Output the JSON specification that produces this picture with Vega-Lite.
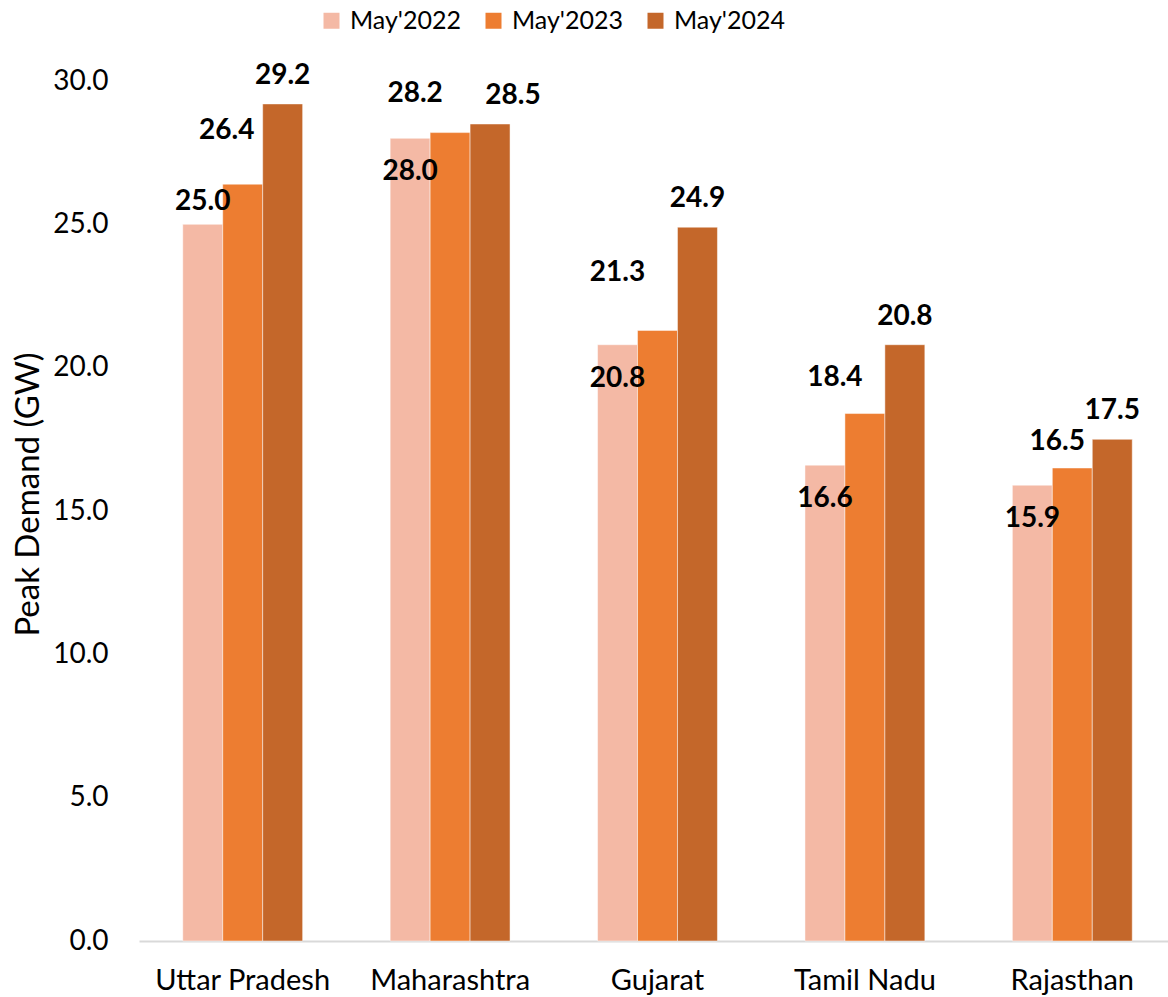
{
  "$schema": "https://vega.github.io/schema/vega-lite/v6.json",
  "autosize": {"type": "none"},
  "padding": {"left": 139, "top": 81, "right": 0, "bottom": 56},
  "width": 1037,
  "height": 860,
  "background": "white",
  "config": {
    "view": {"stroke": null},
    "font": "Lato",
    "text": {"font": "Lato"}
  },
  "data": {
    "values": [
      {"state": "Uttar Pradesh", "year": "May'2022", "value": 25.0},
      {"state": "Uttar Pradesh", "year": "May'2023", "value": 26.4},
      {"state": "Uttar Pradesh", "year": "May'2024", "value": 29.2},
      {"state": "Maharashtra", "year": "May'2022", "value": 28.0},
      {"state": "Maharashtra", "year": "May'2023", "value": 28.2},
      {"state": "Maharashtra", "year": "May'2024", "value": 28.5},
      {"state": "Gujarat", "year": "May'2022", "value": 20.8},
      {"state": "Gujarat", "year": "May'2023", "value": 21.3},
      {"state": "Gujarat", "year": "May'2024", "value": 24.9},
      {"state": "Tamil Nadu", "year": "May'2022", "value": 16.6},
      {"state": "Tamil Nadu", "year": "May'2023", "value": 18.4},
      {"state": "Tamil Nadu", "year": "May'2024", "value": 20.8},
      {"state": "Rajasthan", "year": "May'2022", "value": 15.9},
      {"state": "Rajasthan", "year": "May'2023", "value": 16.5},
      {"state": "Rajasthan", "year": "May'2024", "value": 17.5}
    ]
  },
  "encoding": {
    "x": {
      "field": "state",
      "type": "nominal",
      "sort": ["Uttar Pradesh", "Maharashtra", "Gujarat", "Tamil Nadu", "Rajasthan"],
      "scale": {"paddingInner": 0.422, "paddingOuter": 0.211},
      "axis": {
        "title": null,
        "labelAngle": 0,
        "labelFont": "Lato",
        "labelFontSize": 29,
        "labelColor": "#000000",
        "labelPadding": 25,
        "ticks": false,
        "tickSize": 0,
        "domainColor": "#D9D9D9",
        "domainWidth": 2,
        "grid": false
      }
    },
    "xOffset": {
      "field": "year",
      "type": "nominal",
      "scale": {"paddingInner": 0, "paddingOuter": 0}
    },
    "y": {
      "field": "value",
      "type": "quantitative",
      "scale": {"domain": [0, 30], "nice": false},
      "axis": {
        "title": "Peak Demand (GW)",
        "titleFont": "Lato",
        "titleFontSize": 33,
        "titleFontWeight": "normal",
        "titleColor": "#000000",
        "titleAngle": -90,
        "titleX": -111,
        "titleY": 413,
        "titleAlign": "center",
        "titleBaseline": "middle",
        "values": [0, 5, 10, 15, 20, 25, 30],
        "format": ".1f",
        "labelFont": "Lato",
        "labelFontSize": 28,
        "labelColor": "#000000",
        "labelPadding": 31,
        "ticks": false,
        "tickSize": 0,
        "domain": false,
        "grid": false
      }
    }
  },
  "layer": [
    {
      "mark": {"type": "bar", "stroke": "white", "strokeWidth": 0.8, "strokeOpacity": 0.6},
      "encoding": {
        "color": {
          "field": "year",
          "type": "nominal",
          "scale": {"domain": ["May'2022", "May'2023", "May'2024"], "range": ["#F4B9A5", "#ED7D31", "#C4672A"]},
          "legend": {
            "title": null,
            "orient": "none",
            "direction": "horizontal",
            "legendX": 180,
            "legendY": -73,
            "symbolType": "square",
            "symbolSize": 256,
            "symbolStrokeWidth": 0,
            "labelFont": "Lato",
            "labelFontSize": 25,
            "labelColor": "#000000",
            "labelOffset": 6,
            "columnPadding": 20
          }
        }
      }
    },
    {
      "transform": [{"filter": "datum.year === \"May'2022\" && datum.state === 'Uttar Pradesh'"}],
      "mark": {"type": "text", "font": "Lato", "fontSize": 28, "fontWeight": "bold", "color": "#000000", "baseline": "middle", "dy": -22},
      "encoding": {"text": {"field": "value", "type": "quantitative", "format": ".1f"}}
    },
    {
      "transform": [{"filter": "datum.year === \"May'2022\" && datum.state !== 'Uttar Pradesh'"}],
      "mark": {"type": "text", "font": "Lato", "fontSize": 28, "fontWeight": "bold", "color": "#000000", "baseline": "middle", "dy": 34},
      "encoding": {"text": {"field": "value", "type": "quantitative", "format": ".1f"}}
    },
    {
      "transform": [{"filter": "datum.year === \"May'2023\" && datum.state === 'Uttar Pradesh'"}],
      "mark": {"type": "text", "font": "Lato", "fontSize": 28, "fontWeight": "bold", "color": "#000000", "baseline": "middle", "dx": -16, "dy": -53},
      "encoding": {"text": {"field": "value", "type": "quantitative", "format": ".1f"}}
    },
    {
      "transform": [{"filter": "datum.year === \"May'2023\" && datum.state === 'Maharashtra'"}],
      "mark": {"type": "text", "font": "Lato", "fontSize": 28, "fontWeight": "bold", "color": "#000000", "baseline": "middle", "dx": -35, "dy": -39},
      "encoding": {"text": {"field": "value", "type": "quantitative", "format": ".1f"}}
    },
    {
      "transform": [{"filter": "datum.year === \"May'2023\" && datum.state === 'Gujarat'"}],
      "mark": {"type": "text", "font": "Lato", "fontSize": 28, "fontWeight": "bold", "color": "#000000", "baseline": "middle", "dx": -40, "dy": -57},
      "encoding": {"text": {"field": "value", "type": "quantitative", "format": ".1f"}}
    },
    {
      "transform": [{"filter": "datum.year === \"May'2023\" && datum.state === 'Tamil Nadu'"}],
      "mark": {"type": "text", "font": "Lato", "fontSize": 28, "fontWeight": "bold", "color": "#000000", "baseline": "middle", "dx": -30, "dy": -36},
      "encoding": {"text": {"field": "value", "type": "quantitative", "format": ".1f"}}
    },
    {
      "transform": [{"filter": "datum.year === \"May'2023\" && datum.state === 'Rajasthan'"}],
      "mark": {"type": "text", "font": "Lato", "fontSize": 28, "fontWeight": "bold", "color": "#000000", "baseline": "middle", "dx": -15, "dy": -26},
      "encoding": {"text": {"field": "value", "type": "quantitative", "format": ".1f"}}
    },
    {
      "transform": [{"filter": "datum.year === \"May'2024\" && datum.state !== 'Maharashtra'"}],
      "mark": {"type": "text", "font": "Lato", "fontSize": 28, "fontWeight": "bold", "color": "#000000", "baseline": "middle", "dy": -28},
      "encoding": {"text": {"field": "value", "type": "quantitative", "format": ".1f"}}
    },
    {
      "transform": [{"filter": "datum.year === \"May'2024\" && datum.state === 'Maharashtra'"}],
      "mark": {"type": "text", "font": "Lato", "fontSize": 28, "fontWeight": "bold", "color": "#000000", "baseline": "middle", "dx": 23, "dy": -28},
      "encoding": {"text": {"field": "value", "type": "quantitative", "format": ".1f"}}
    }
  ]
}
